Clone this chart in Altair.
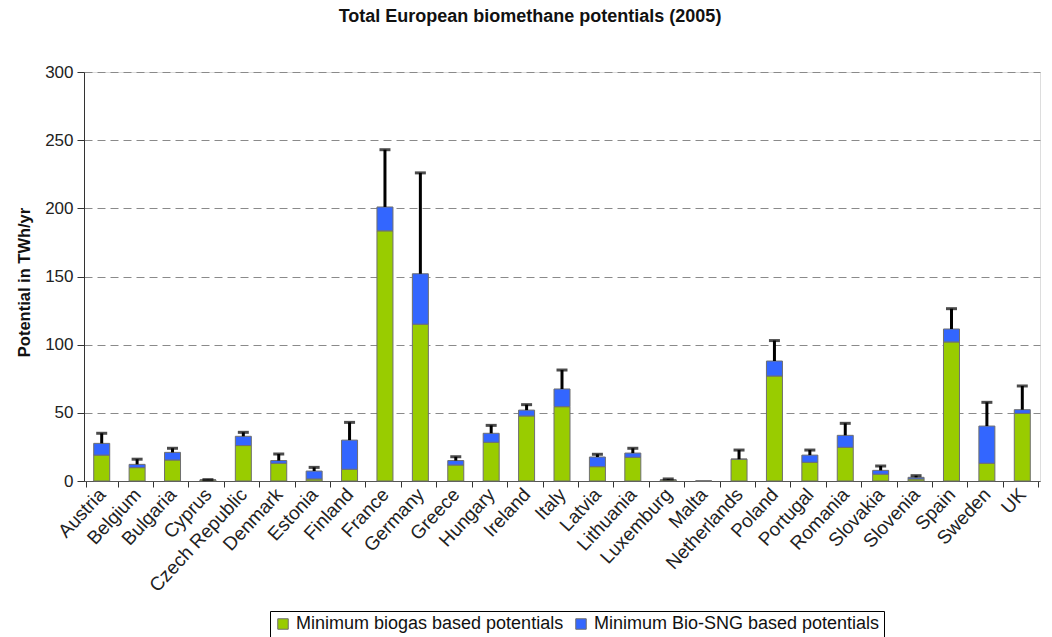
import altair as alt
import pandas as pd

countries = ["Austria", "Belgium", "Bulgaria", "Cyprus", "Czech Republic", "Denmark",
             "Estonia", "Finland", "France", "Germany", "Greece", "Hungary", "Ireland",
             "Italy", "Latvia", "Lithuania", "Luxemburg", "Malta", "Netherlands",
             "Poland", "Portugal", "Romania", "Slovakia", "Slovenia", "Spain",
             "Sweden", "UK"]

biogas = [19, 9.8, 15.4, 0.8, 26, 13, 1.5, 8.6, 183.5, 115, 11.7, 28.4, 47.7,
          54.5, 10.5, 17.4, 0.8, 0, 16, 77, 13.7, 24.7, 5, 1.5, 102, 13, 49.6]
biosng = [8.6, 2.4, 5.6, 0, 6.8, 2, 5.8, 21.4, 17.5, 37, 3.3, 6.6, 4.3,
          13, 7.1, 3.1, 0, 0, 0, 11, 5.3, 8.8, 2.8, 1.2, 9.5, 27.3, 2.7]
err_top = [35, 16, 24, 1, 35.7, 19.8, 10, 43, 243, 226, 17.8, 40.8, 56,
           81.4, 19.6, 24, 1.5, 0, 22.7, 103, 22.7, 42.3, 11, 3.9, 126.4, 57.7, 69.7]

series_names = ["Minimum biogas based potentials", "Minimum Bio-SNG based potentials"]
series_colors = ["#99cc00", "#3366ff"]

rows = []
for c, g, b in zip(countries, biogas, biosng):
    rows.append({"country": c, "series": series_names[0], "value": g, "ord": 0})
    rows.append({"country": c, "series": series_names[1], "value": b, "ord": 1})
long_df = pd.DataFrame(rows)

err_df = pd.DataFrame({
    "country": countries,
    "total": [g + b for g, b in zip(biogas, biosng)],
    "err": err_top,
})
err_df = err_df[err_df["err"] > 0]

FONT = "Liberation Sans, Arial"

x_enc = alt.X("country:N", sort=countries, title=None,
              axis=alt.Axis(labelAngle=-47, labelAlign="right", labelBaseline="middle",
                            labelFontSize=19, labelFont=FONT, labelColor="#222222",
                            labelPadding=4, tickBand="extent", tickSize=6,
                            domainColor="#555555", tickColor="#333333",
                            labelOverlap=False))

bars = alt.Chart(long_df).mark_bar(size=16, stroke="#6f6f6f", strokeWidth=1).encode(
    x=x_enc,
    y=alt.Y("value:Q", stack="zero",
            scale=alt.Scale(domain=[0, 300], nice=False),
            title="Potential in TWh/yr",
            axis=alt.Axis(values=[0, 50, 100, 150, 200, 250, 300], grid=True,
                          gridDash=[8, 5], gridColor="#8a8a8a", gridWidth=1,
                          labelFontSize=17, labelFont=FONT, labelColor="#222222",
                          titleFontSize=16.5, titleFont=FONT, titleFontWeight="bold",
                          titleColor="#111111", titlePadding=12, titleY=210,
                          domainColor="#333333", tickColor="#333333", tickSize=7,
                          labelPadding=4)),
    color=alt.Color("series:N", scale=alt.Scale(domain=series_names, range=series_colors),
                    title=None,
                    legend=alt.Legend(orient="none", legendX=186, legendY=539,
                                      direction="horizontal", symbolType="square",
                                      symbolSize=110, symbolStrokeColor="#6f6f6f",
                                      symbolStrokeWidth=1,
                                      labelFontSize=18, labelFont=FONT, labelColor="#111111",
                                      labelLimit=400, strokeColor="#000000", padding=4,
                                      columnPadding=8, symbolOffset=0)),
    order=alt.Order("ord:Q"),
)

rules = alt.Chart(err_df).mark_rule(color="black", strokeWidth=3).encode(
    x=alt.X("country:N", sort=countries),
    y="total:Q",
    y2="err:Q",
)
caps = alt.Chart(err_df).mark_tick(color="black", thickness=3, size=11).encode(
    x=alt.X("country:N", sort=countries),
    y="err:Q",
)

chart = alt.layer(bars, rules, caps).properties(
    width=956, height=409,
    autosize=alt.AutoSizeParams(type="none"),
    padding={"left": 84, "top": 72, "right": 12, "bottom": 156},
    title=alt.TitleParams("Total European biomethane potentials (2005)",
                          font=FONT, fontSize=18,
                          fontWeight="bold", color="#111111", anchor="middle",
                          frame="group", dx=-32, offset=37),
).configure_view(stroke=None).configure(background="white")

chart.save("out.html", embed_options={"renderer": "svg", "actions": False})
